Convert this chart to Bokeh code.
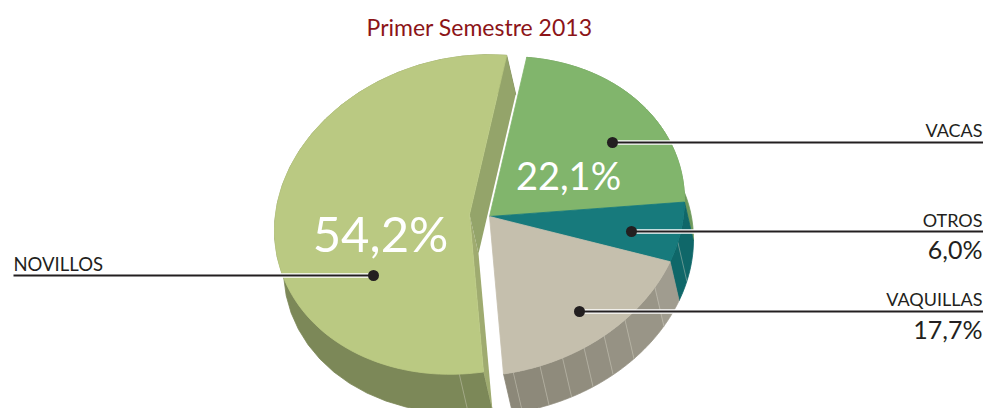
import math
from bokeh.plotting import figure
from bokeh.models import Range1d
from bokeh.core.properties import value
from bokeh.embed import file_html
from bokeh.resources import INLINE

# ---- data ----
title_text = "Primer Semestre 2013"
categories = ["VACAS", "OTROS", "VAQUILLAS", "NOVILLOS"]
shares = [22.1, 6.0, 17.7, 54.2]
share_labels = ["22,1%", "6,0%", "17,7%", "54,2%"]
top_colors = ["#81b56c", "#177a7c", "#c5bfad", "#bac982"]
wall_colors = ["#6e9a5c", "#0f6769", "#989486", "#7c8858"]
# positions on the pie rim (degrees) of the faint facet lines on the wall
facet_lines = [[], [-15], [-83, -75, -68, -61, -54, -46, -32], [-93]]
# shades of the VAQUILLAS wall, from its front end to its back end
vaquillas_shades = ["#8c8879", "#8d897a", "#8f8b7c", "#918d7e", "#938f81",
                    "#969284", "#999587", "#a09c8f"]

# ---- layout ----
W, H = 983, 408
RX, RY, SHEAR = 195, 159, 16
DEPTH_X, DEPTH_Y = 9, 39
START = 79
CENTERS = [(489, 216), (489, 216), (489, 216), (469, 214)]
FONT = value("Lato")

p = figure(width=W, height=H, output_backend="svg", toolbar_location=None,
           x_range=Range1d(0, W), y_range=Range1d(H, 0),
           min_border=0, outline_line_color=None)
p.axis.visible = False
p.grid.visible = False
p.background_fill_color = "white"
p.border_fill_color = "white"


def rim(c, t):
    r = math.radians(t)
    return (c[0] + RX * math.cos(r), c[1] - RY * math.sin(r) - SHEAR * math.cos(r))


def arc(c, t0, t1, n=90):
    return [rim(c, t0 + (t1 - t0) * i / n) for i in range(n + 1)]


def shift(pt):
    return (pt[0] + DEPTH_X, pt[1] + DEPTH_Y)


def poly(pts, color, line=None):
    p.patch([q[0] for q in pts], [q[1] for q in pts], fill_color=color,
            line_color=line, line_width=0.8)


def wall(c, t0, t1, color):
    rimpts = arc(c, t0, t1, 30)
    poly(rimpts + [shift(q) for q in reversed(rimpts)], color, color)


# slice angle spans from the shares
spans = []
a = START
for s in shares:
    b = a - s * 3.6
    spans.append((a, b))
    a = b

# walls, then the cut faces of the separated slice, then tops
for i, (c, (t0, t1), col, lines) in enumerate(zip(CENTERS, spans, wall_colors, facet_lines)):
    if i == 2:
        stops = [t1] + lines + [t0]
        for k, shade in enumerate(vaquillas_shades):
            wall(c, stops[k], stops[k + 1], shade)
    else:
        wall(c, t0, t1, col)
    for t in lines:
        q = rim(c, t)
        r = shift(q)
        p.line([q[0], r[0]], [q[1], r[1]], line_color="#d8d6c8", line_width=0.6, line_alpha=0.7)

c = CENTERS[3]
t0, t1 = spans[3]
e0, e1 = rim(c, t0), rim(c, t1)
poly([c, e0, shift(e0), shift(c)], "#9fab70")
poly([c, e1, shift(e1), shift(c)], "#94a46a")

for c, (t0, t1), col in zip(CENTERS, spans, top_colors):
    poly([c] + arc(c, t0, t1), col, col)

# leaders: (dot x, dot y, far x)
leaders = {"VACAS": (612, 142, 983), "OTROS": (631, 231, 983),
           "VAQUILLAS": (579, 311, 983), "NOVILLOS": (373, 275, 13)}


def text(x, base, s, size, color, align="left"):
    p.text([x], [base - 0.42 * size], text=[s], text_font=FONT, text_font_size=f"{size}px",
           text_color=color, text_align=align, text_baseline="alphabetic")


text(479, 36, title_text, 23, "#8c1418", "center")
text(568, 190, share_labels[0], 38, "white", "center")
text(380, 253, share_labels[3], 49, "white", "center")
text(13, 271, categories[3], 18.5, "#231f20")
text(982, 137, categories[0], 18, "#231f20", "right")
text(982, 227, categories[1], 18, "#231f20", "right")
text(982, 306, categories[2], 18, "#231f20", "right")
text(982, 259, share_labels[1], 25, "#231f20", "right")
text(982, 339, share_labels[2], 25, "#231f20", "right")

for name, (x, y, end) in leaders.items():
    p.line([x, end], [y, y], line_color="white", line_width=4.5)
    p.line([x, end], [y, y], line_color="#231f20", line_width=2)
    p.scatter([x], [y], size=11, marker="circle", fill_color="#231f20", line_color=None)

open("out.html", "w").write(file_html(p, INLINE))
